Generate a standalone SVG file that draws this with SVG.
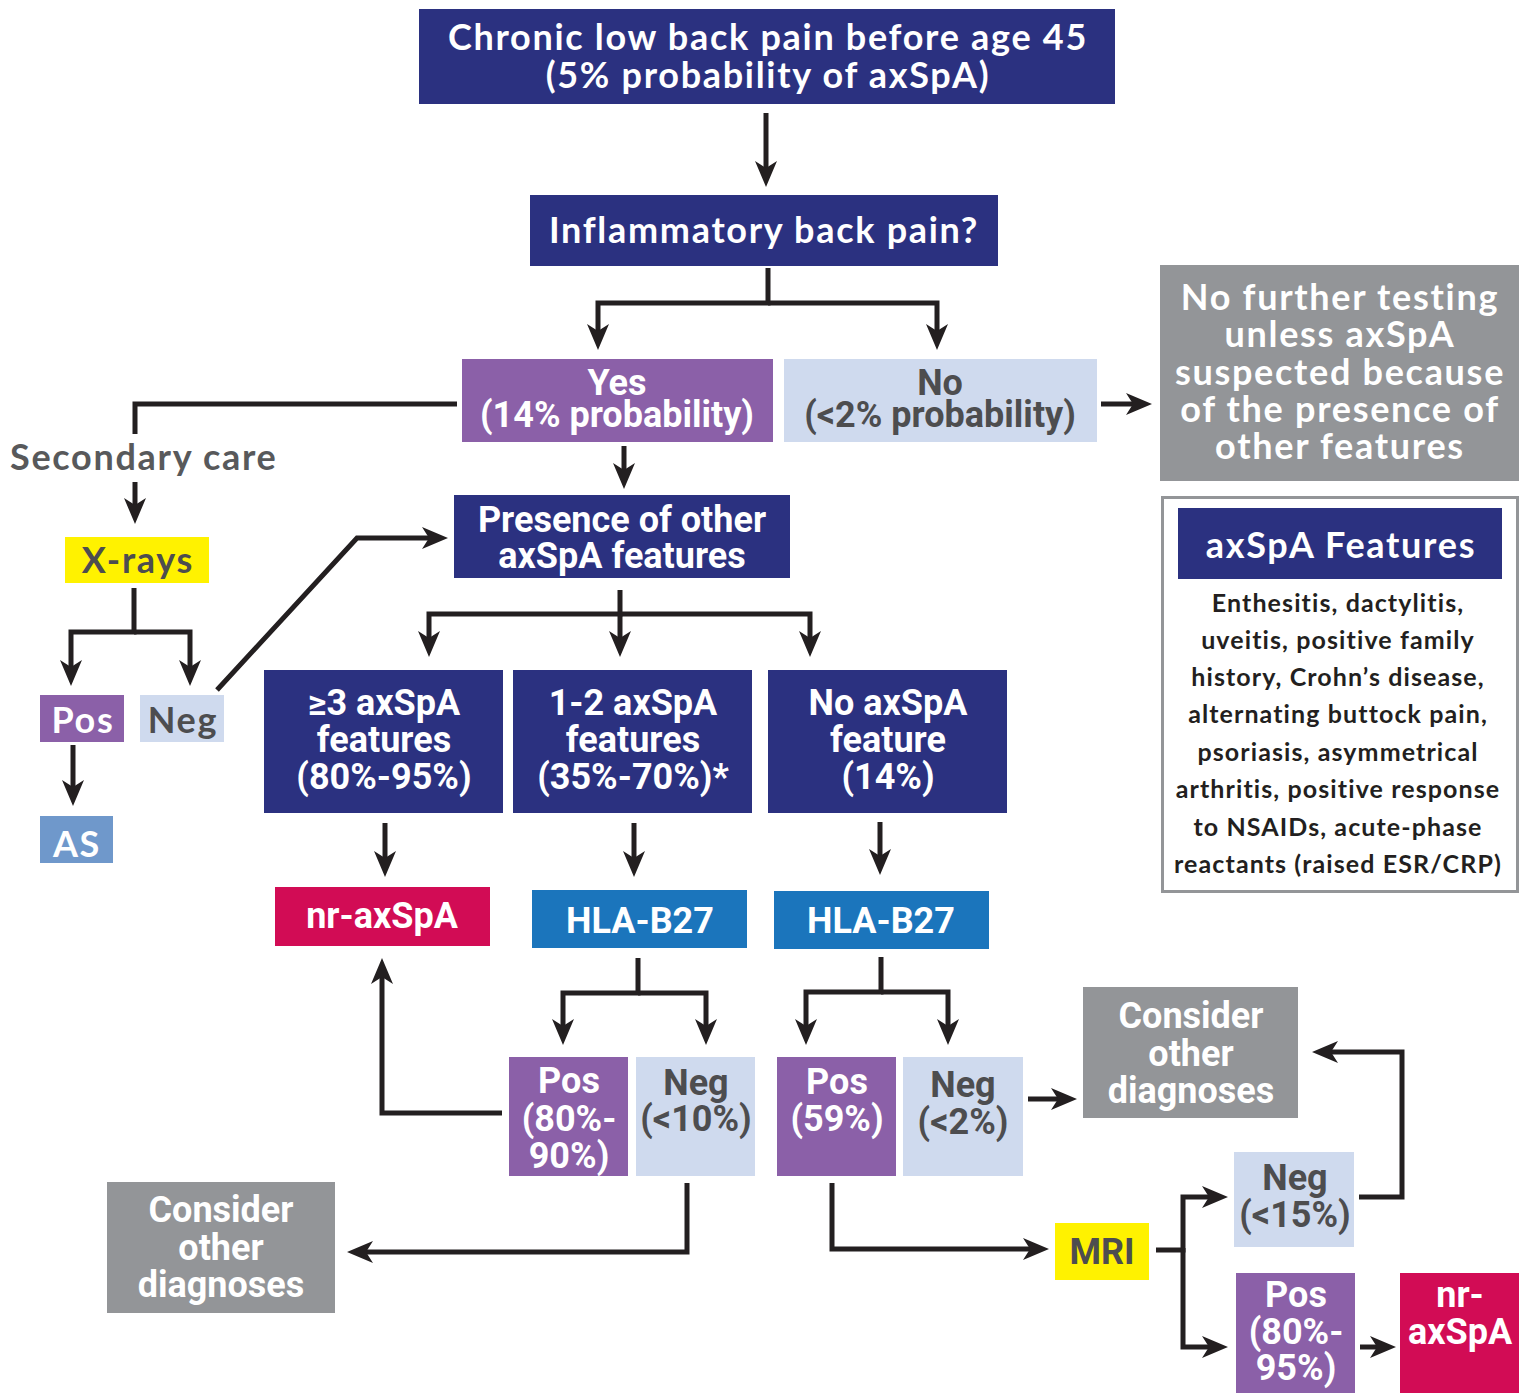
<svg xmlns="http://www.w3.org/2000/svg" width="1519" height="1393" viewBox="0 0 1519 1393">
<defs>
<marker id="ah" markerUnits="userSpaceOnUse" viewBox="0 0 26 22" markerWidth="26" markerHeight="22" refX="10" refY="11" orient="auto">
<path d="M0,0 L26,11 L0,22 L7,11 z" fill="#231f20"/>
</marker>
<style>
.w{font-family:Lato,"Open Sans",sans-serif;font-weight:700;font-size:36px;letter-spacing:1.7px;text-anchor:middle}
.c{font-family:Roboto,"Liberation Sans",sans-serif;font-weight:700;font-size:36px;text-anchor:middle}
.b{font-family:Lato,"Open Sans",sans-serif;font-weight:700;font-size:25px;letter-spacing:1.1px;text-anchor:middle;fill:#231f20}
.wt{fill:#ffffff}
.dk{fill:#4d4d4f}
.navy{fill:#2b3180}
.purple{fill:#8b60a8}
.light{fill:#cfdaee}
.gray{fill:#939598}
.yellow{fill:#fff200}
.crimson{fill:#d20c55}
.blue{fill:#1b75bc}
.asblue{fill:#6f98cb}
.conn path{fill:none;stroke:#231f20;stroke-width:5;stroke-linejoin:miter}
</style>
</defs>
<rect width="1519" height="1393" fill="#ffffff"/>

<g class="conn">
<path d="M766,113 V171" marker-end="url(#ah)"/>
<path d="M768,268 V303 H598 V334" marker-end="url(#ah)"/>
<path d="M768,303 H937 V334" marker-end="url(#ah)"/>
<path d="M624,446 V473" marker-end="url(#ah)"/>
<path d="M1101,404 H1136" marker-end="url(#ah)"/>
<path d="M457,404 H135 V434"/>
<path d="M135,482 V508" marker-end="url(#ah)"/>
<path d="M134,588 V632 H71 V670" marker-end="url(#ah)"/>
<path d="M134,632 H190 V670" marker-end="url(#ah)"/>
<path d="M73,745 V790" marker-end="url(#ah)"/>
<path d="M217,690 L357,538 H432" marker-end="url(#ah)"/>
<path d="M620,590 V614 H429 V641" marker-end="url(#ah)"/>
<path d="M620,612 V641" marker-end="url(#ah)"/>
<path d="M620,614 H810 V641" marker-end="url(#ah)"/>
<path d="M385,823 V861" marker-end="url(#ah)"/>
<path d="M634,823 V861" marker-end="url(#ah)"/>
<path d="M880,822 V859" marker-end="url(#ah)"/>
<path d="M638,958 V993 H563 V1029" marker-end="url(#ah)"/>
<path d="M638,993 H706 V1029" marker-end="url(#ah)"/>
<path d="M881,957 V992 H806 V1029" marker-end="url(#ah)"/>
<path d="M881,992 H948 V1029" marker-end="url(#ah)"/>
<path d="M502,1113 H382 V974" marker-end="url(#ah)"/>
<path d="M687,1183 V1252 H363" marker-end="url(#ah)"/>
<path d="M1028,1099 H1061" marker-end="url(#ah)"/>
<path d="M832,1183 V1249 H1033" marker-end="url(#ah)"/>
<path d="M1156,1250 H1183 V1197 H1212" marker-end="url(#ah)"/>
<path d="M1183,1248 V1347 H1212" marker-end="url(#ah)"/>
<path d="M1359,1197 H1402 V1052 H1328" marker-end="url(#ah)"/>
<path d="M1360,1347 H1380" marker-end="url(#ah)"/>
</g>

<g id="start">
<rect class="navy" x="419" y="9" width="696" height="95"/>
<text class="w wt" x="768" y="50">Chronic low back pain before age 45</text>
<text class="w wt" x="768" y="88">(5% probability of axSpA)</text>
</g>

<g id="ibp">
<rect class="navy" x="530" y="195" width="468" height="71"/>
<text class="w wt" x="764" y="243">Inflammatory back pain?</text>
</g>

<g id="yes">
<rect class="purple" x="462" y="359" width="311" height="83"/>
<text class="c wt" x="617" y="395">Yes</text>
<text class="c wt" x="617" y="427">(14% probability)</text>
</g>

<g id="no">
<rect class="light" x="784" y="359" width="313" height="83"/>
<text class="c dk" x="940" y="395">No</text>
<text class="c dk" x="940" y="427">(&lt;2% probability)</text>
</g>

<g id="no-further">
<rect class="gray" x="1160" y="265" width="359" height="216"/>
<text class="w wt" x="1340" y="310">No further testing</text>
<text class="w wt" x="1340" y="347">unless axSpA</text>
<text class="w wt" x="1340" y="385">suspected because</text>
<text class="w wt" x="1340" y="422">of the presence of</text>
<text class="w wt" x="1340" y="459">other features</text>
</g>

<g id="secondary-care">
<text class="w" x="10" y="470" style="text-anchor:start;fill:#58595b">Secondary care</text>
</g>

<g id="xrays">
<rect class="yellow" x="65" y="537" width="144" height="46"/>
<text class="w dk" x="138" y="573">X-rays</text>
</g>

<g id="xray-pos">
<rect class="purple" x="40" y="695" width="84" height="47"/>
<text class="w wt" x="83" y="733">Pos</text>
</g>

<g id="xray-neg">
<rect class="light" x="140" y="695" width="84" height="47"/>
<text class="w dk" x="183" y="733">Neg</text>
</g>

<g id="as">
<rect class="asblue" x="40" y="816" width="73" height="47"/>
<text class="w wt" x="77" y="857">AS</text>
</g>

<g id="presence">
<rect class="navy" x="454" y="495" width="336" height="83"/>
<text class="c wt" x="622" y="532">Presence of other</text>
<text class="c wt" x="622" y="568">axSpA features</text>
</g>

<g id="three-plus">
<rect class="navy" x="264" y="670" width="239" height="143"/>
<text class="c wt" x="384" y="715">≥3 axSpA</text>
<text class="c wt" x="384" y="752">features</text>
<text class="c wt" x="384" y="789">(80%-95%)</text>
</g>

<g id="one-two">
<rect class="navy" x="513" y="670" width="239" height="143"/>
<text class="c wt" x="633" y="715">1-2 axSpA</text>
<text class="c wt" x="633" y="752">features</text>
<text class="c wt" x="633" y="789">(35%-70%)*</text>
</g>

<g id="none">
<rect class="navy" x="768" y="670" width="239" height="143"/>
<text class="c wt" x="888" y="715">No axSpA</text>
<text class="c wt" x="888" y="752">feature</text>
<text class="c wt" x="888" y="789">(14%)</text>
</g>

<g id="nr-axspa-1">
<rect class="crimson" x="275" y="887" width="215" height="59"/>
<text class="c wt" x="382" y="928">nr-axSpA</text>
</g>

<g id="hla-1">
<rect class="blue" x="532" y="890" width="215" height="58"/>
<text class="c wt" x="640" y="933">HLA-B27</text>
</g>

<g id="hla-2">
<rect class="blue" x="774" y="891" width="215" height="58"/>
<text class="c wt" x="881" y="933">HLA-B27</text>
</g>

<g id="hla1-pos">
<rect class="purple" x="509" y="1057" width="119" height="119"/>
<text class="c wt" x="569" y="1093">Pos</text>
<text class="c wt" x="569" y="1131">(80%-</text>
<text class="c wt" x="569" y="1168">90%)</text>
</g>

<g id="hla1-neg">
<rect class="light" x="636" y="1057" width="119" height="119"/>
<text class="c dk" x="696" y="1095">Neg</text>
<text class="c dk" x="696" y="1131">(&lt;10%)</text>
</g>

<g id="hla2-pos">
<rect class="purple" x="777" y="1057" width="119" height="119"/>
<text class="c wt" x="837" y="1094">Pos</text>
<text class="c wt" x="837" y="1131">(59%)</text>
</g>

<g id="hla2-neg">
<rect class="light" x="903" y="1057" width="120" height="119"/>
<text class="c dk" x="963" y="1097">Neg</text>
<text class="c dk" x="963" y="1134">(&lt;2%)</text>
</g>

<g id="consider-left">
<rect class="gray" x="107" y="1182" width="228" height="131"/>
<text class="c wt" x="221" y="1222">Consider</text>
<text class="c wt" x="221" y="1260">other</text>
<text class="c wt" x="221" y="1297">diagnoses</text>
</g>

<g id="consider-right">
<rect class="gray" x="1083" y="987" width="215" height="131"/>
<text class="c wt" x="1191" y="1028">Consider</text>
<text class="c wt" x="1191" y="1066">other</text>
<text class="c wt" x="1191" y="1103">diagnoses</text>
</g>

<g id="mri">
<rect class="yellow" x="1055" y="1223" width="94" height="57"/>
<text class="c dk" x="1102" y="1264">MRI</text>
</g>

<g id="mri-neg">
<rect class="light" x="1234" y="1152" width="120" height="95"/>
<text class="c dk" x="1295" y="1190">Neg</text>
<text class="c dk" x="1295" y="1227">(&lt;15%)</text>
</g>

<g id="mri-pos">
<rect class="purple" x="1236" y="1273" width="119" height="120"/>
<text class="c wt" x="1296" y="1307">Pos</text>
<text class="c wt" x="1296" y="1344">(80%-</text>
<text class="c wt" x="1296" y="1380">95%)</text>
</g>

<g id="nr-axspa-2">
<rect class="crimson" x="1400" y="1273" width="119" height="120"/>
<text class="c wt" x="1460" y="1307">nr-</text>
<text class="c wt" x="1460" y="1344">axSpA</text>
</g>

<g id="features">
<rect x="1162.5" y="497.5" width="355" height="394" fill="#ffffff" stroke="#939598" stroke-width="3"/>
<rect class="navy" x="1178" y="508" width="324" height="71"/>
<text class="w wt" x="1341" y="558">axSpA Features</text>
<text class="b" x="1338" y="612">Enthesitis, dactylitis,</text>
<text class="b" x="1338" y="649">uveitis, positive family</text>
<text class="b" x="1338" y="686">history, Crohn’s disease,</text>
<text class="b" x="1338" y="723">alternating buttock pain,</text>
<text class="b" x="1338" y="761">psoriasis, asymmetrical</text>
<text class="b" x="1338" y="798">arthritis, positive response</text>
<text class="b" x="1338" y="836">to NSAIDs, acute-phase</text>
<text class="b" x="1338" y="873">reactants (raised ESR/CRP)</text>
</g>
</svg>
